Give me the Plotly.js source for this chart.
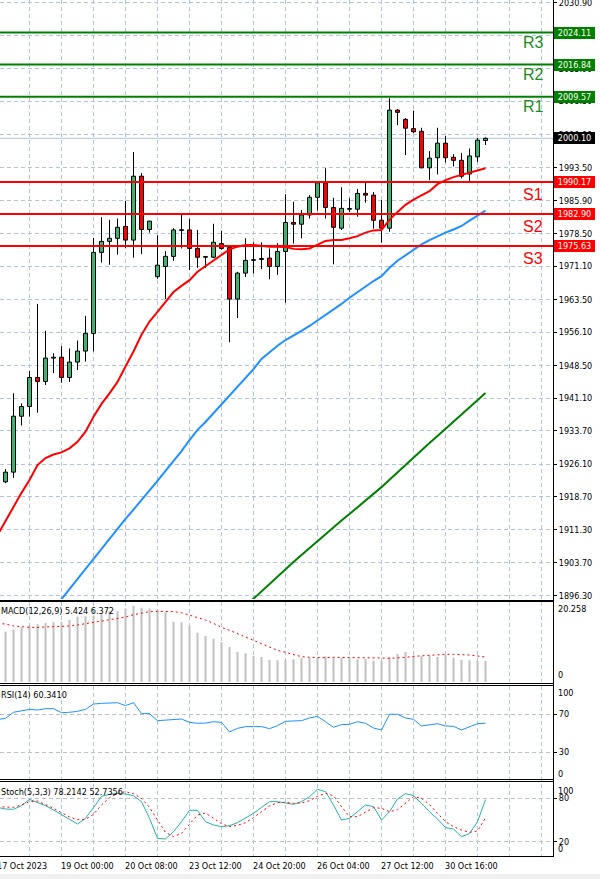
<!DOCTYPE html>
<html><head><meta charset="utf-8">
<script src="https://cdn.plot.ly/plotly-3.0.1.min.js"></script>
<style>html,body{margin:0;padding:0;background:#fff;}#chart{width:600px;height:879px;}</style>
</head><body><div id="chart"></div>
<script>
// ---------- DATA (4H candles, bar index 0..60) ----------
const opens  = [1922.1,1924.3,1937.0,1939.2,1945.8,1944.9,1950.2,1950.4,1945.8,1949.3,1951.8,1955.8,1974.2,1976.7,1977.4,1980.1,1977.0,1991.5,1979.4,1968.7,1971.0,1973.3,1979.2,1979.3,1975.1,1973.1,1973.1,1976.2,1975.3,1963.6,1969.5,1972.4,1972.6,1972.9,1971.0,1974.4,1981.0,1980.6,1982.7,1986.7,1990.0,1984.4,1979.7,1984.0,1984.0,1987.6,1987.2,1981.5,1979.7,2006.5,2004.4,2002.3,2001.7,1993.4,1995.7,1999.0,1995.8,1995.1,1992.0,1995.9,1999.6];
const highs  = [1925.0,1942.2,1939.9,1947.3,1962.5,1956.4,1951.3,1952.9,1952.4,1954.2,1959.8,1977.5,1982.2,1981.6,1981.9,1985.9,1997.0,1992.2,1981.4,1978.1,1974.5,1979.7,1982.7,1981.8,1979.3,1973.4,1980.7,1979.1,1975.5,1969.8,1977.4,1976.5,1976.5,1975.1,1976.3,1987.4,1985.7,1983.8,1987.2,1990.2,1993.3,1986.6,1989.0,1986.5,1988.6,1990.0,1987.9,1986.1,2009.2,2006.7,2004.7,2006.4,2002.5,1997.2,2002.5,2000.6,1996.5,1996.8,1997.8,2000.2,2000.3];
const lows   = [1921.8,1923.0,1934.9,1936.9,1937.8,1944.1,1946.8,1944.6,1944.8,1947.5,1949.4,1951.7,1971.9,1971.4,1973.7,1975.2,1973.0,1973.8,1978.7,1968.2,1963.6,1972.3,1975.1,1970.2,1970.7,1970.7,1972.9,1974.8,1953.8,1959.3,1968.6,1969.4,1970.4,1968.1,1969.1,1962.8,1976.2,1977.4,1981.9,1983.7,1981.9,1971.5,1979.3,1983.4,1982.3,1985.5,1979.6,1976.4,1978.9,2003.1,1996.3,2001.3,1993.3,1990.6,1991.9,1994.6,1993.7,1991.0,1990.4,1994.7,1998.6];
const closes = [1924.3,1937.0,1939.2,1945.8,1944.9,1950.2,1950.4,1945.8,1949.3,1951.8,1955.8,1974.2,1976.7,1977.4,1979.9,1977.0,1991.5,1979.4,1981.3,1971.3,1973.3,1979.3,1979.3,1975.1,1973.1,1973.2,1976.5,1975.1,1963.6,1969.5,1972.4,1972.5,1972.8,1971.0,1974.4,1981.0,1980.6,1982.7,1986.7,1990.0,1984.4,1979.9,1984.2,1984.1,1987.6,1987.2,1981.5,1979.7,2006.5,2006.0,2002.4,2001.6,1993.4,1995.6,1999.0,1995.7,1995.1,1991.5,1996.1,1999.7,2000.1];

// moving averages; each starts at the given bar index
const maRedStart = -1;
const maRed  = [1910.0,1913.3,1916.6,1919.6,1922.5,1925.9,1927.5,1928.3,1928.8,1929.7,1931.2,1933.5,1936.9,1939.8,1942.2,1944.8,1948.3,1951.7,1955.5,1958.5,1960.7,1962.9,1965.2,1966.6,1967.9,1969.8,1971.1,1972.5,1973.7,1974.9,1975.5,1975.9,1975.9,1975.7,1975.5,1975.5,1975.4,1975.0,1974.9,1975.1,1975.9,1976.8,1977.0,1977.0,1977.4,1977.9,1978.7,1979.2,1979.3,1981.6,1983.4,1985.0,1986.2,1987.1,1988.1,1989.7,1990.6,1991.3,1991.8,1992.2,1992.8,1993.3];
const maBlueStart = 6;
const maBlue = [1893.2,1895.5,1897.7,1900.0,1902.4,1904.7,1907.0,1909.2,1911.5,1913.7,1915.8,1917.9,1920.0,1922.3,1924.6,1926.8,1929.1,1931.6,1933.9,1935.7,1937.7,1939.8,1941.6,1943.6,1945.7,1947.7,1950.0,1951.6,1953.0,1954.3,1955.3,1956.4,1957.5,1958.7,1960.0,1961.2,1962.5,1963.9,1965.2,1966.5,1967.7,1968.8,1970.7,1972.3,1973.6,1974.9,1976.0,1977.0,1977.9,1978.7,1979.4,1980.2,1981.4,1982.6,1983.7];
const maGreenStart = 30;
const maGreen = [1893.9,1895.6,1897.3,1899.0,1900.7,1902.3,1903.9,1905.5,1907.1,1908.7,1910.3,1911.9,1913.3,1914.8,1916.3,1917.9,1919.3,1920.9,1922.6,1924.3,1926.0,1927.7,1929.3,1930.9,1932.5,1934.1,1935.7,1937.3,1938.9,1940.6,1942.3];

// pivot levels
const resistLevels = [2009.57, 2016.84, 2024.11];
const resistNames  = ['R1','R2','R3'];
const supportLevels = [1990.17, 1982.90, 1975.63];
const supportNames  = ['S1','S2','S3'];

// MACD(12,26,9)
const macdHist = [12.72,13.22,13.81,14.31,14.57,14.90,15.07,15.24,15.74,16.49,16.57,16.80,17.08,17.83,17.83,18.58,19.25,18.75,18.58,18.25,17.58,15.24,15.07,14.23,12.47,11.63,10.96,10.04,8.87,7.70,7.28,6.69,6.36,5.69,5.52,5.60,5.77,6.02,6.11,6.19,6.52,6.19,6.19,6.19,5.77,5.86,5.44,5.44,6.44,7.11,7.61,6.69,6.52,6.69,6.36,6.86,6.19,5.69,5.52,5.35,5.424];
const macdSignalStart = -1;
const macdSignal = [14.8,14.65,14.15,13.89,13.81,13.81,13.89,13.98,14.06,14.15,14.40,14.73,15.15,15.40,15.65,15.99,16.40,16.99,17.41,17.75,17.83,17.83,17.75,17.50,16.91,16.32,15.65,14.82,13.81,13.06,12.22,11.38,10.46,9.54,8.70,8.03,7.53,7.03,6.44,6.27,6.19,6.19,6.27,6.27,6.27,6.27,6.27,6.19,6.11,6.02,6.11,6.27,6.52,6.69,6.77,6.86,7.03,7.03,7.03,6.86,6.61,6.372];
const macdMax = 20.258;

// RSI(14)
const rsiStart = -1;
const rsi = [64.3,65.4,71.8,73.5,74.9,74.2,75.6,75.6,71.4,71.8,72.8,74.9,80.5,81.2,81.2,81.9,78.8,81.9,70.4,70.4,63.0,63.7,64.7,64.7,61.2,60.2,60.5,61.9,61.2,51.1,54.9,56.7,56.7,56.7,54.6,57.7,62.3,62.3,63.0,65.8,67.5,61.9,56.0,58.8,59.1,61.9,60.2,55.3,53.2,69.7,69.7,65.8,64.4,57.4,58.4,59.8,57.4,57.0,53.2,56.7,59.8,60.341];

// Stochastic(5,3,3)
const stochStart = -1;
const stochK = [67.5,65.2,64.8,69.9,78.6,74.5,69.9,63.9,57.9,50.9,44.5,52.3,67.1,82.8,85.6,86.9,86.0,83.7,75.4,52.3,24.6,23.7,33.8,47.7,63.4,63.4,47.7,43.1,40.8,42.1,46.3,52.3,59.2,67.5,75.4,75.4,73.5,71.7,75.4,82.3,92.5,89.2,70.8,50.0,52.3,61.5,70.8,68.5,50.0,61.5,79.1,86.5,83.7,73.1,61.5,51.4,39.4,37.5,26.9,31.1,47.7,78.2142];
const stochD = [68.5,68.0,67.5,70.8,75.4,76.3,71.7,66.2,60.2,54.2,50.5,50.9,57.9,70.8,80.9,86.9,89.2,86.5,80.0,67.5,50.0,32.9,27.0,31.5,44.0,56.9,59.7,52.3,44.9,40.8,42.6,46.3,53.2,61.5,69.4,74.0,74.5,73.1,73.5,76.8,82.8,86.9,83.7,68.5,54.6,54.6,60.6,67.1,66.2,61.5,64.3,73.1,82.3,80.0,71.7,59.2,47.7,40.8,36.1,32.9,34.8,52.7356];

// axis labels
const priceTicks = [1896.30,1903.70,1911.30,1918.70,1926.10,1933.70,1941.10,1948.50,1956.10,1963.50,1971.10,1978.50,1985.90,1993.50,2000.90,2008.50,2015.90,2023.50,2030.90];
const dateLabels = ['17 Oct 2023','19 Oct 00:00','20 Oct 08:00','23 Oct 12:00','24 Oct 20:00','26 Oct 04:00','27 Oct 12:00','30 Oct 16:00'];
const dateBars   = [-1, 7, 15, 23, 31, 39, 47, 55];

// ---------- BUILD ----------
const H = 879, PW = 553;
const py = p => 1 - p / H;
const pxX = p => p / PW;
const FONT = "'DejaVu Sans Condensed', 'Liberation Sans', sans-serif";
const idx = (start, n) => Array.from({length: n}, (_, k) => start + k);
const bars = idx(0, closes.length);
const XMIN = -0.6875, XMAX = 68.4375, PXPERBAR = PW / (XMAX - XMIN);

const GREEN = '#3cb371', RED = '#ff0000';
const bodyBase = bars.map(i => Math.min(opens[i], closes[i]));
const bodyH = bars.map(i => Math.max(Math.abs(closes[i] - opens[i]), 0.15));
const bodyCol = bars.map(i => closes[i] >= opens[i] ? GREEN : RED);
const wx = [], wy = [];
bars.forEach(i => {
  const top = Math.max(opens[i], closes[i]), bot = Math.min(opens[i], closes[i]);
  wx.push(i, i, null, i, i, null);
  wy.push(highs[i], top, null, bot, lows[i], null);
});

const traces = [
  {type:'scatter', mode:'lines', x:wx, y:wy, line:{color:'#000', width:1}, hoverinfo:'skip', connectgaps:false},
  {type:'bar', x:bars, base:bodyBase, y:bodyH, width:0.5, marker:{color:bodyCol, line:{color:'#000', width:1}}, hoverinfo:'skip'},
  {type:'scatter', mode:'lines', x:idx(maGreenStart, maGreen.length), y:maGreen, line:{color:'#008000', width:2}, hoverinfo:'skip'},
  {type:'scatter', mode:'lines', x:idx(maBlueStart, maBlue.length), y:maBlue, line:{color:'#1e90ff', width:2}, hoverinfo:'skip'},
  {type:'scatter', mode:'lines', x:idx(maRedStart, maRed.length), y:maRed, line:{color:'#ff0000', width:2}, hoverinfo:'skip'},
  {type:'bar', x:bars, y:macdHist, width:0.25, marker:{color:'#c0c0c0', line:{width:0}}, yaxis:'y2', hoverinfo:'skip'},
  {type:'scatter', mode:'lines', x:idx(macdSignalStart, macdSignal.length), y:macdSignal, line:{color:'#ff0000', width:1, dash:'2px,3px'}, yaxis:'y2', hoverinfo:'skip'},
  {type:'scatter', mode:'lines', x:idx(rsiStart, rsi.length), y:rsi, line:{color:'#1e90ff', width:1}, yaxis:'y3', hoverinfo:'skip'},
  {type:'scatter', mode:'lines', x:idx(stochStart, stochK.length), y:stochK, line:{color:'#20b2aa', width:1}, yaxis:'y4', hoverinfo:'skip'},
  {type:'scatter', mode:'lines', x:idx(stochStart, stochD.length), y:stochD, line:{color:'#ff0000', width:1, dash:'2px,3px'}, yaxis:'y4', hoverinfo:'skip'}
];

const gridBars = Array.from({length: 17}, (_, k) => 3 + 4 * k);
const GRID = '#b0c4de';
const tfont = {family: FONT, size: 9, color: '#000'};
const lastClose = closes[closes.length - 1];

const shapes = [];
shapes.push({type:'line', xref:'paper', x0:0, x1:1, yref:'y', y0:lastClose, y1:lastClose, line:{color:GRID, width:1}, layer:'below'});
resistLevels.forEach(v => shapes.push({type:'line', xref:'paper', x0:0, x1:1, yref:'y', y0:v, y1:v, line:{color:'#008000', width:2}, layer:'above'}));
supportLevels.forEach(v => shapes.push({type:'line', xref:'paper', x0:0, x1:1, yref:'y', y0:v, y1:v, line:{color:'#ff0000', width:2}, layer:'above'}));
[600.5,601.5,683.5,685.5,779.5,781.5,856.5].forEach(p =>
  shapes.push({type:'line', xref:'paper', yref:'paper', x0:0, x1:pxX(553.5), y0:py(p), y1:py(p), line:{color:'#000', width:1}, layer:'above'}));
shapes.push({type:'line', xref:'paper', yref:'paper', x0:pxX(553.5), x1:pxX(553.5), y0:py(0), y1:py(857), line:{color:'#000', width:1}, layer:'above'});
shapes.push({type:'rect', xref:'paper', yref:'paper', x0:pxX(-1), x1:pxX(601), y0:py(880), y1:py(874), fillcolor:'#f0f0f0', line:{width:0}, layer:'above'});

const ann = [];
const bigFont = c => ({family:"'Liberation Sans', Arial, sans-serif", size:16, color:c});
resistLevels.forEach((v, k) => ann.push({xref:'paper', x:pxX(533), xanchor:'center', yref:'y', y:v, yanchor:'middle', yshift:-10, text:resistNames[k], showarrow:false, font:bigFont('#228b22')}));
supportLevels.forEach((v, k) => ann.push({xref:'paper', x:pxX(533), xanchor:'center', yref:'y', y:v, yanchor:'middle', yshift:-12, text:supportNames[k], showarrow:false, font:bigFont('#ff0000')}));
const tag = (v, bg) => ({xref:'paper', x:1, xanchor:'left', xshift:1, yref:'y', y:v, yanchor:'middle', text:v.toFixed(2), showarrow:false, bgcolor:bg, borderwidth:0, borderpad:1, width:39, height:10, font:{family:FONT, size:9, color:'#fff'}});
resistLevels.forEach(v => ann.push(tag(v, '#008000')));
supportLevels.forEach(v => ann.push(tag(v, '#ff0000')));
ann.push(tag(lastClose, '#000000'));
const last = a => a[a.length - 1];
ann.push({xref:'paper', x:0, xanchor:'left', xshift:-1, yref:'paper', y:py(610.5), yanchor:'middle', text:'MACD(12,26,9) ' + last(macdHist).toFixed(3) + ' ' + last(macdSignal).toFixed(3), showarrow:false, font:tfont});
ann.push({xref:'paper', x:0, xanchor:'left', xshift:-1, yref:'paper', y:py(695), yanchor:'middle', text:'RSI(14) ' + last(rsi).toFixed(4), showarrow:false, font:tfont});
ann.push({xref:'paper', x:0, xanchor:'left', xshift:-1, yref:'paper', y:py(791.5), yanchor:'middle', text:'Stoch(5,3,3) ' + last(stochK).toFixed(4) + ' ' + last(stochD).toFixed(4), showarrow:false, font:tfont});
const endLab = (yref, v, txt, anchor) => ({xref:'paper', x:1, xanchor:'left', xshift:3, yref:yref, y:v, yanchor:anchor, text:txt, showarrow:false, font:tfont});
ann.push(endLab('y2', macdMax, String(macdMax), 'top'));
ann.push(endLab('y2', 0, '0', 'bottom'));
ann.push(endLab('y3', 100, '100', 'top'));
ann.push(endLab('y3', 0, '0', 'bottom'));
ann.push(endLab('y4', 100, '100', 'top'));
ann.push(endLab('y4', 0, '0', 'bottom'));
// date labels (left-aligned at their bar); a bar left of the visible range is pinned to the edge and shifted
dateLabels.forEach((t, k) => {
  const b = dateBars[k];
  const xb = Math.max(b, XMIN);
  ann.push({xref:'x', x:xb, xanchor:'left', xshift:-3 + (b - xb) * PXPERBAR, yref:'paper', y:py(866), yanchor:'middle', text:t, showarrow:false, font:tfont});
});

const yCommon = {side:'right', zeroline:false, showline:false, fixedrange:true, tickfont:tfont, ticks:'outside', ticklen:3, tickcolor:'#000', ticklabeloverflow:'allow'};
const layout = {
  width:600, height:879, margin:{l:0, r:47, t:0, b:0}, paper_bgcolor:'#fff', plot_bgcolor:'#fff',
  showlegend:false, barmode:'overlay', font:tfont,
  xaxis:{range:[XMIN, XMAX], anchor:'y4', tickmode:'array', tickvals:gridBars, showticklabels:false, ticks:'', showgrid:true, gridcolor:GRID, griddash:'4px,3px', gridwidth:1, zeroline:false, showline:false, fixedrange:true},
  yaxis:Object.assign({}, yCommon, {domain:[py(599), 1], range:[1895.50, 2031.51], tickmode:'array', tickvals:priceTicks, ticktext:priceTicks.map(v => v.toFixed(2)), showgrid:true, gridcolor:GRID, griddash:'4px,3px'}),
  yaxis2:Object.assign({}, yCommon, {domain:[py(682.3), py(601.7)], range:[0, macdMax], showticklabels:false, ticks:'', showgrid:false}),
  yaxis3:Object.assign({}, yCommon, {domain:[py(780.5), py(685.5)], range:[0, 100], tickmode:'array', tickvals:[30, 70], ticktext:['30','70'], showgrid:true, gridcolor:'#c0c0c0', griddash:'4px,3px'}),
  yaxis4:Object.assign({}, yCommon, {domain:[py(856.1), py(783.9)], range:[0, 100], tickmode:'array', tickvals:[20, 80], ticktext:['20','80'], showgrid:true, gridcolor:'#c0c0c0', griddash:'4px,3px'}),
  shapes:shapes, annotations:ann
};
Plotly.newPlot('chart', traces, layout, {staticPlot:true, displayModeBar:false});
</script>
</body></html>
